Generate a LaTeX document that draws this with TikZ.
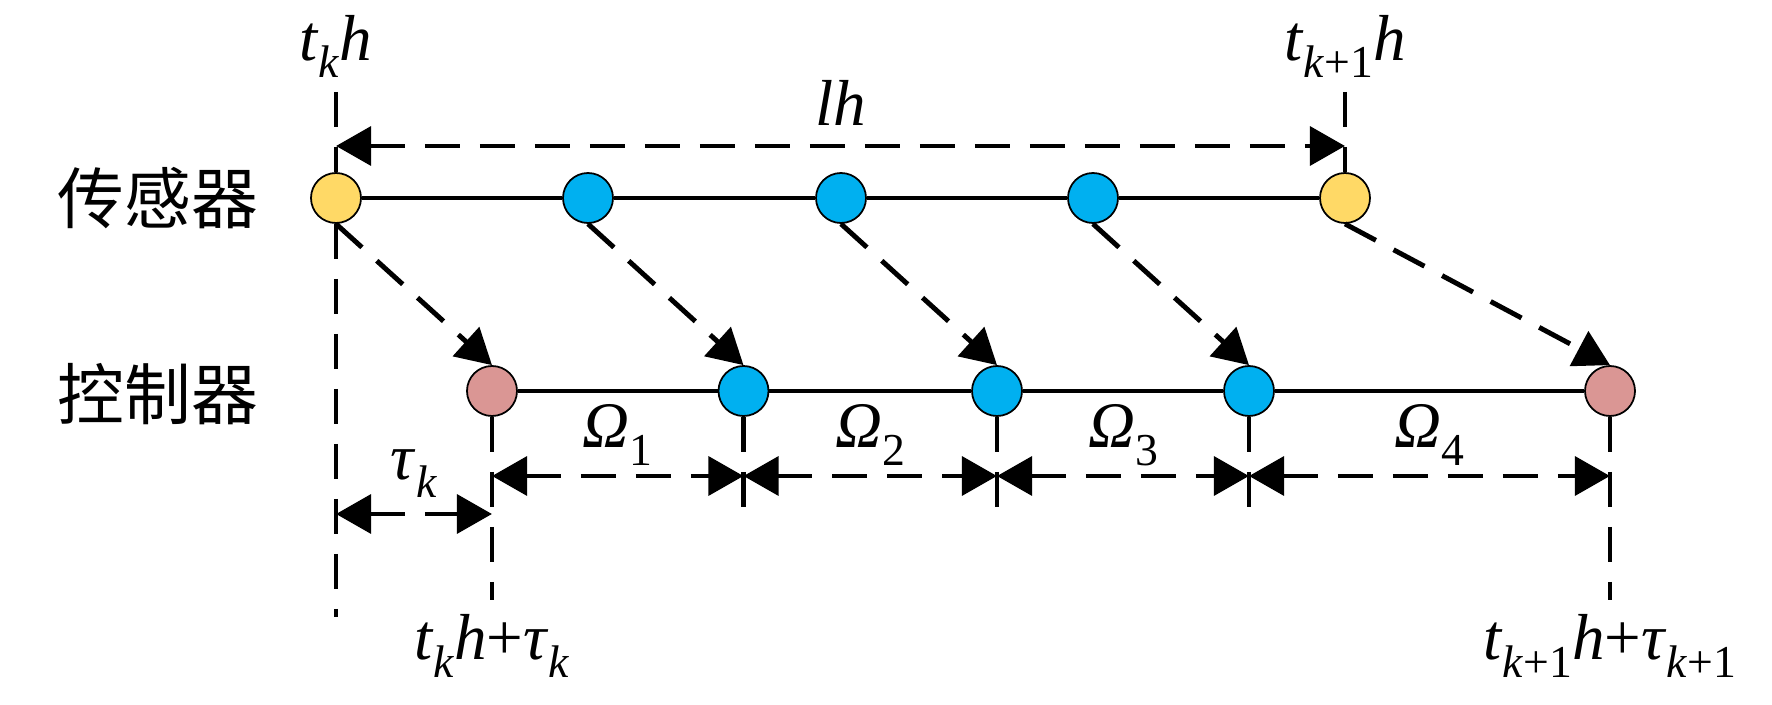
\documentclass[tikz,border=0pt]{standalone}
\usepackage{fontspec}
\setmainfont{Liberation Serif}
\newfontfamily\timesfont{Liberation Serif}
\newfontfamily\cjk{Noto Sans CJK SC}
\usetikzlibrary{arrows.meta, calc, positioning}

\definecolor{dotyellow}{HTML}{FFD966}
\definecolor{dotblue}{HTML}{00B0F0}
\definecolor{dotpink}{HTML}{DA9694}

% lowered subscript for the time labels
\newcommand{\lowsub}[1]{\raisebox{-0.6ex}{\fontsize{13pt}{13pt}\selectfont #1}}

\begin{document}
\begin{tikzpicture}[
    font=\timesfont\fontsize{18.5pt}{20pt}\selectfont,
    >={Triangle[length=10pt, width=11pt]}
]
    \useasboundingbox (0,0) rectangle (17.72,7.04);

    % Styles
    \tikzstyle{sample_dot} = [draw, circle, line width=0.5pt, minimum size=0.5cm, inner sep=0pt]
    \tikzstyle{event_dot} = [sample_dot, fill=dotyellow]
    \tikzstyle{extra_dot} = [sample_dot, fill=dotblue]
    \tikzstyle{ctrl_dot} = [sample_dot, fill=dotpink]
    \tikzstyle{timeline} = [line width=1pt]
    \tikzstyle{guide} = [line width=1.3pt, dash pattern=on 0.35cm off 0.2cm]
    \tikzstyle{span_arrow} = [<->, line width=1.4pt, dash pattern=on 0.35cm off 0.2cm]
    \tikzstyle{msg_arrow} = [->, line width=1.4pt, dash pattern=on 0.35cm off 0.2cm]

    % Row labels
    \node [font=\cjk\fontsize{19pt}{21pt}\selectfont] (SensLabel) at (1.58, 5.06) {传感器};
    \node [font=\cjk\fontsize{19pt}{21pt}\selectfont] (CtrlLabel) at (1.58, 3.10) {控制器};

    % Sensor samples
    \node [event_dot] (Sens1) at (3.36, 5.06) {};
    \node [extra_dot] (Sens2) at (5.88, 5.06) {};
    \node [extra_dot] (Sens3) at (8.41, 5.06) {};
    \node [extra_dot] (Sens4) at (10.93, 5.06) {};
    \node [event_dot] (Sens5) at (13.45, 5.06) {};

    % Controller updates
    \node [ctrl_dot] (Ctrl1) at (4.92, 3.13) {};
    \node [extra_dot] (Ctrl2) at (7.435, 3.13) {};
    \node [extra_dot] (Ctrl3) at (9.97, 3.13) {};
    \node [extra_dot] (Ctrl4) at (12.49, 3.13) {};
    \node [ctrl_dot] (Ctrl5) at (16.10, 3.13) {};

    % Time lines
    \draw [timeline] (Sens1) -- (Sens2) -- (Sens3) -- (Sens4) -- (Sens5);
    \draw [timeline] (Ctrl1) -- (Ctrl2) -- (Ctrl3) -- (Ctrl4) -- (Ctrl5);

    % Guide lines, top
    \coordinate (tick_top) at (0, 6.12);
    \draw [guide] (Sens1 |- tick_top) node[above] {\textit{t}\lowsub{\textit{k}}\textit{h}} -- (Sens1.north);
    \draw [guide] (Sens5 |- tick_top) node[above] {\textit{t}\lowsub{\textit{k}+1}\textit{h}} -- (Sens5.north);

    % Guide lines, bottom
    \coordinate (tick_low) at (0, 1.04);
    \coordinate (tick_mid) at (0, 1.97);
    \draw [guide] (Sens1.south) -- (Sens1 |- 0,0.87);
    \draw [guide] (Ctrl1.south) -- (Ctrl1 |- tick_low) node[below] {\textit{t}\lowsub{\textit{k}}\textit{h}+\textit{τ}\lowsub{\textit{k}}};
    \draw [guide] (Ctrl2.south) -- (Ctrl2 |- tick_mid);
    \draw [guide] (Ctrl3.south) -- (Ctrl3 |- tick_mid);
    \draw [guide] (Ctrl4.south) -- (Ctrl4 |- tick_mid);
    \draw [guide] (Ctrl5.south) -- (Ctrl5 |- tick_low) node[below] {\textit{t}\lowsub{\textit{k}+1}\textit{h}+\textit{τ}\lowsub{\textit{k}+1}};

    % Sampling period
    \coordinate (period_y) at (0, 5.58);
    \draw [span_arrow] (Sens1 |- period_y) -- (Sens5 |- period_y) node[midway, above=0.06cm] {\textit{lh}};

    % Transmission
    \draw [msg_arrow] (Sens1.south) -- (Ctrl1.north);
    \draw [msg_arrow] (Sens2.south) -- (Ctrl2.north);
    \draw [msg_arrow] (Sens3.south) -- (Ctrl3.north);
    \draw [msg_arrow] (Sens4.south) -- (Ctrl4.north);
    \draw [msg_arrow] (Sens5.south) -- (Ctrl5.north);

    % Holding intervals
    \coordinate (hold_y) at (0, 2.28);
    \draw [span_arrow] (Ctrl1 |- hold_y) -- (Ctrl2 |- hold_y) node[midway, above=-0.04cm] {\textit{Ω}\lowsub{1}};
    \draw [span_arrow] (Ctrl2 |- hold_y) -- (Ctrl3 |- hold_y) node[midway, above=-0.04cm] {\textit{Ω}\lowsub{2}};
    \draw [span_arrow] (Ctrl3 |- hold_y) -- (Ctrl4 |- hold_y) node[midway, above=-0.04cm] {\textit{Ω}\lowsub{3}};
    \draw [span_arrow] (Ctrl4 |- hold_y) -- (Ctrl5 |- hold_y) node[midway, above=-0.04cm] {\textit{Ω}\lowsub{4}};

    % Delay
    \coordinate (delay_y) at (0, 1.90);
    \draw [span_arrow] (Sens1 |- delay_y) -- (Ctrl1 |- delay_y) node[midway, above=0.02cm] {\textit{τ}\lowsub{\textit{k}}};

\end{tikzpicture}
\end{document}
